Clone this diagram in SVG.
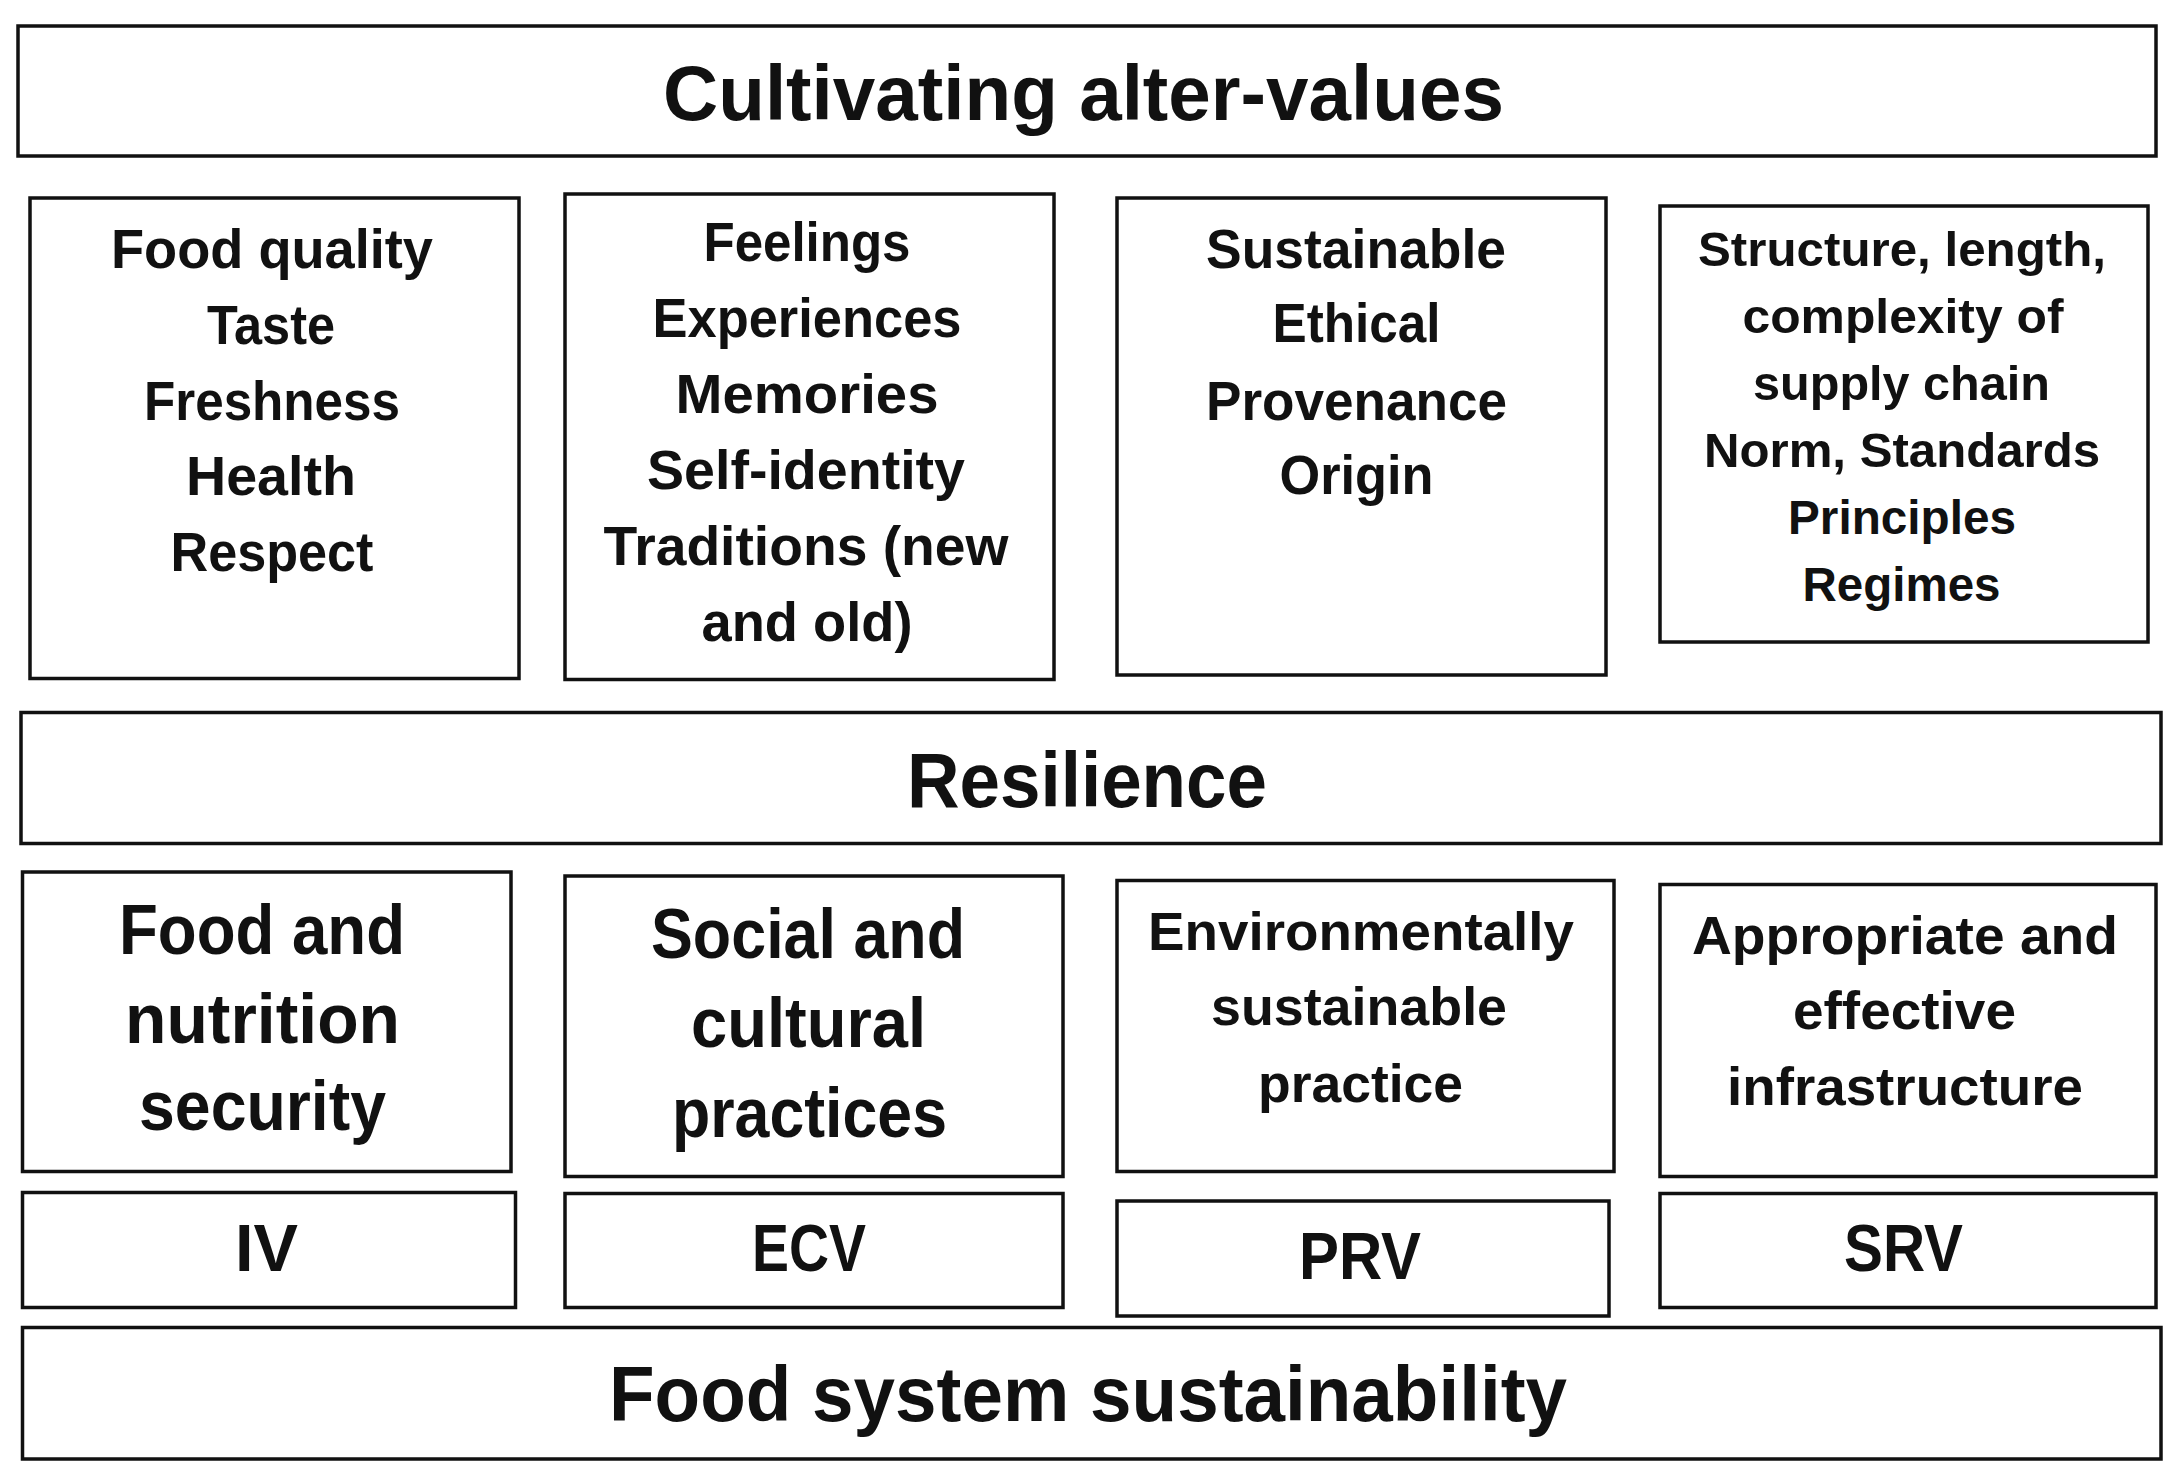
<svg xmlns="http://www.w3.org/2000/svg" width="2183" height="1482" viewBox="0 0 2183 1482">
<style>
rect.box{fill:#fff;stroke:#111;stroke-width:3.5}
text{font-family:"Liberation Sans",Arial,sans-serif;font-weight:bold;fill:#111;text-anchor:middle}
.big{font-size:77px}
.r1{font-size:56px}
.r1s{font-size:47.5px}
.r2{font-size:70px}
.r2s{font-size:53px}
.r3{font-size:67px}
</style>
<rect x="0" y="0" width="2183" height="1482" fill="#fff"/>
<g id="connectors"></g>
<g id="cultivating">
<rect class="box" x="18" y="26" width="2138" height="130"/>
<text class="big" x="1083.5" y="119.5" textLength="841" lengthAdjust="spacingAndGlyphs">Cultivating alter-values</text>
</g>
<g id="food-quality">
<rect class="box" x="30" y="198" width="489" height="480.5"/>
<text class="r1" x="272" y="268" textLength="322" lengthAdjust="spacingAndGlyphs">Food quality</text>
<text class="r1" x="271" y="343.5" textLength="128" lengthAdjust="spacingAndGlyphs">Taste</text>
<text class="r1" x="272" y="419.5" textLength="256" lengthAdjust="spacingAndGlyphs">Freshness</text>
<text class="r1" x="271" y="494.5" textLength="170" lengthAdjust="spacingAndGlyphs">Health</text>
<text class="r1" x="272" y="570.5" textLength="203" lengthAdjust="spacingAndGlyphs">Respect</text>
</g>
<g id="feelings">
<rect class="box" x="565" y="194" width="489" height="485.5"/>
<text class="r1" x="807" y="261" textLength="207" lengthAdjust="spacingAndGlyphs">Feelings</text>
<text class="r1" x="807" y="337" textLength="309" lengthAdjust="spacingAndGlyphs">Experiences</text>
<text class="r1" x="807" y="413" textLength="263" lengthAdjust="spacingAndGlyphs">Memories</text>
<text class="r1" x="806" y="489" textLength="318" lengthAdjust="spacingAndGlyphs">Self-identity</text>
<text class="r1" x="806" y="564.5" textLength="405" lengthAdjust="spacingAndGlyphs">Traditions (new</text>
<text class="r1" x="807" y="640.5" textLength="211" lengthAdjust="spacingAndGlyphs">and old)</text>
</g>
<g id="sustainable">
<rect class="box" x="1117" y="198" width="489" height="477"/>
<text class="r1" x="1356" y="268" textLength="300" lengthAdjust="spacingAndGlyphs">Sustainable</text>
<text class="r1" x="1356.5" y="342" textLength="168" lengthAdjust="spacingAndGlyphs">Ethical</text>
<text class="r1" x="1356.5" y="419.5" textLength="301" lengthAdjust="spacingAndGlyphs">Provenance</text>
<text class="r1" x="1356.5" y="493.5" textLength="154" lengthAdjust="spacingAndGlyphs">Origin</text>
</g>
<g id="structure">
<rect class="box" x="1660" y="206" width="488" height="436"/>
<text class="r1s" x="1902" y="265.5" textLength="408" lengthAdjust="spacingAndGlyphs">Structure, length,</text>
<text class="r1s" x="1903" y="332.5" textLength="321" lengthAdjust="spacingAndGlyphs">complexity of</text>
<text class="r1s" x="1901.5" y="399.5" textLength="297" lengthAdjust="spacingAndGlyphs">supply chain</text>
<text class="r1s" x="1902" y="466.5" textLength="396" lengthAdjust="spacingAndGlyphs">Norm, Standards</text>
<text class="r1s" x="1902" y="533.5" textLength="228" lengthAdjust="spacingAndGlyphs">Principles</text>
<text class="r1s" x="1901.5" y="600.5" textLength="198" lengthAdjust="spacingAndGlyphs">Regimes</text>
</g>
<g id="resilience">
<rect class="box" x="21" y="712.5" width="2140" height="131"/>
<text class="big" x="1087" y="807" textLength="360" lengthAdjust="spacingAndGlyphs">Resilience</text>
</g>
<g id="food-nutrition">
<rect class="box" x="22.5" y="872" width="488.5" height="299.5"/>
<text class="r2" x="262" y="954" textLength="286" lengthAdjust="spacingAndGlyphs">Food and</text>
<text class="r2" x="262.5" y="1043" textLength="275" lengthAdjust="spacingAndGlyphs">nutrition</text>
<text class="r2" x="262.5" y="1130" textLength="247" lengthAdjust="spacingAndGlyphs">security</text>
</g>
<g id="social-cultural">
<rect class="box" x="565" y="876" width="498" height="300.5"/>
<text class="r2" x="808" y="958" textLength="314" lengthAdjust="spacingAndGlyphs">Social and</text>
<text class="r2" x="808.5" y="1046.5" textLength="235" lengthAdjust="spacingAndGlyphs">cultural</text>
<text class="r2" x="809.5" y="1136.5" textLength="275" lengthAdjust="spacingAndGlyphs">practices</text>
</g>
<g id="environmental">
<rect class="box" x="1117" y="880.5" width="497" height="291"/>
<text class="r2s" x="1361" y="949.5" textLength="426" lengthAdjust="spacingAndGlyphs">Environmentally</text>
<text class="r2s" x="1359" y="1025" textLength="296" lengthAdjust="spacingAndGlyphs">sustainable</text>
<text class="r2s" x="1360.5" y="1101.5" textLength="205" lengthAdjust="spacingAndGlyphs">practice</text>
</g>
<g id="infrastructure">
<rect class="box" x="1660" y="884.5" width="496" height="292"/>
<text class="r2s" x="1905" y="954" textLength="426" lengthAdjust="spacingAndGlyphs">Appropriate and</text>
<text class="r2s" x="1904.5" y="1029" textLength="223" lengthAdjust="spacingAndGlyphs">effective</text>
<text class="r2s" x="1905" y="1105" textLength="356" lengthAdjust="spacingAndGlyphs">infrastructure</text>
</g>
<g id="iv">
<rect class="box" x="22.5" y="1192.5" width="493" height="115"/>
<text class="r3" x="266.5" y="1271" textLength="63" lengthAdjust="spacingAndGlyphs">IV</text>
</g>
<g id="ecv">
<rect class="box" x="565" y="1193.5" width="498" height="114"/>
<text class="r3" x="809" y="1271" textLength="114" lengthAdjust="spacingAndGlyphs">ECV</text>
</g>
<g id="prv">
<rect class="box" x="1117" y="1201" width="492" height="115"/>
<text class="r3" x="1360" y="1278.5" textLength="122" lengthAdjust="spacingAndGlyphs">PRV</text>
</g>
<g id="srv">
<rect class="box" x="1660" y="1193.5" width="496" height="114"/>
<text class="r3" x="1903.5" y="1271" textLength="119" lengthAdjust="spacingAndGlyphs">SRV</text>
</g>
<g id="food-system">
<rect class="box" x="22.5" y="1327.5" width="2138.5" height="131.5"/>
<text class="big" x="1088" y="1420.5" textLength="958" lengthAdjust="spacingAndGlyphs">Food system sustainability</text>
</g>
</svg>
